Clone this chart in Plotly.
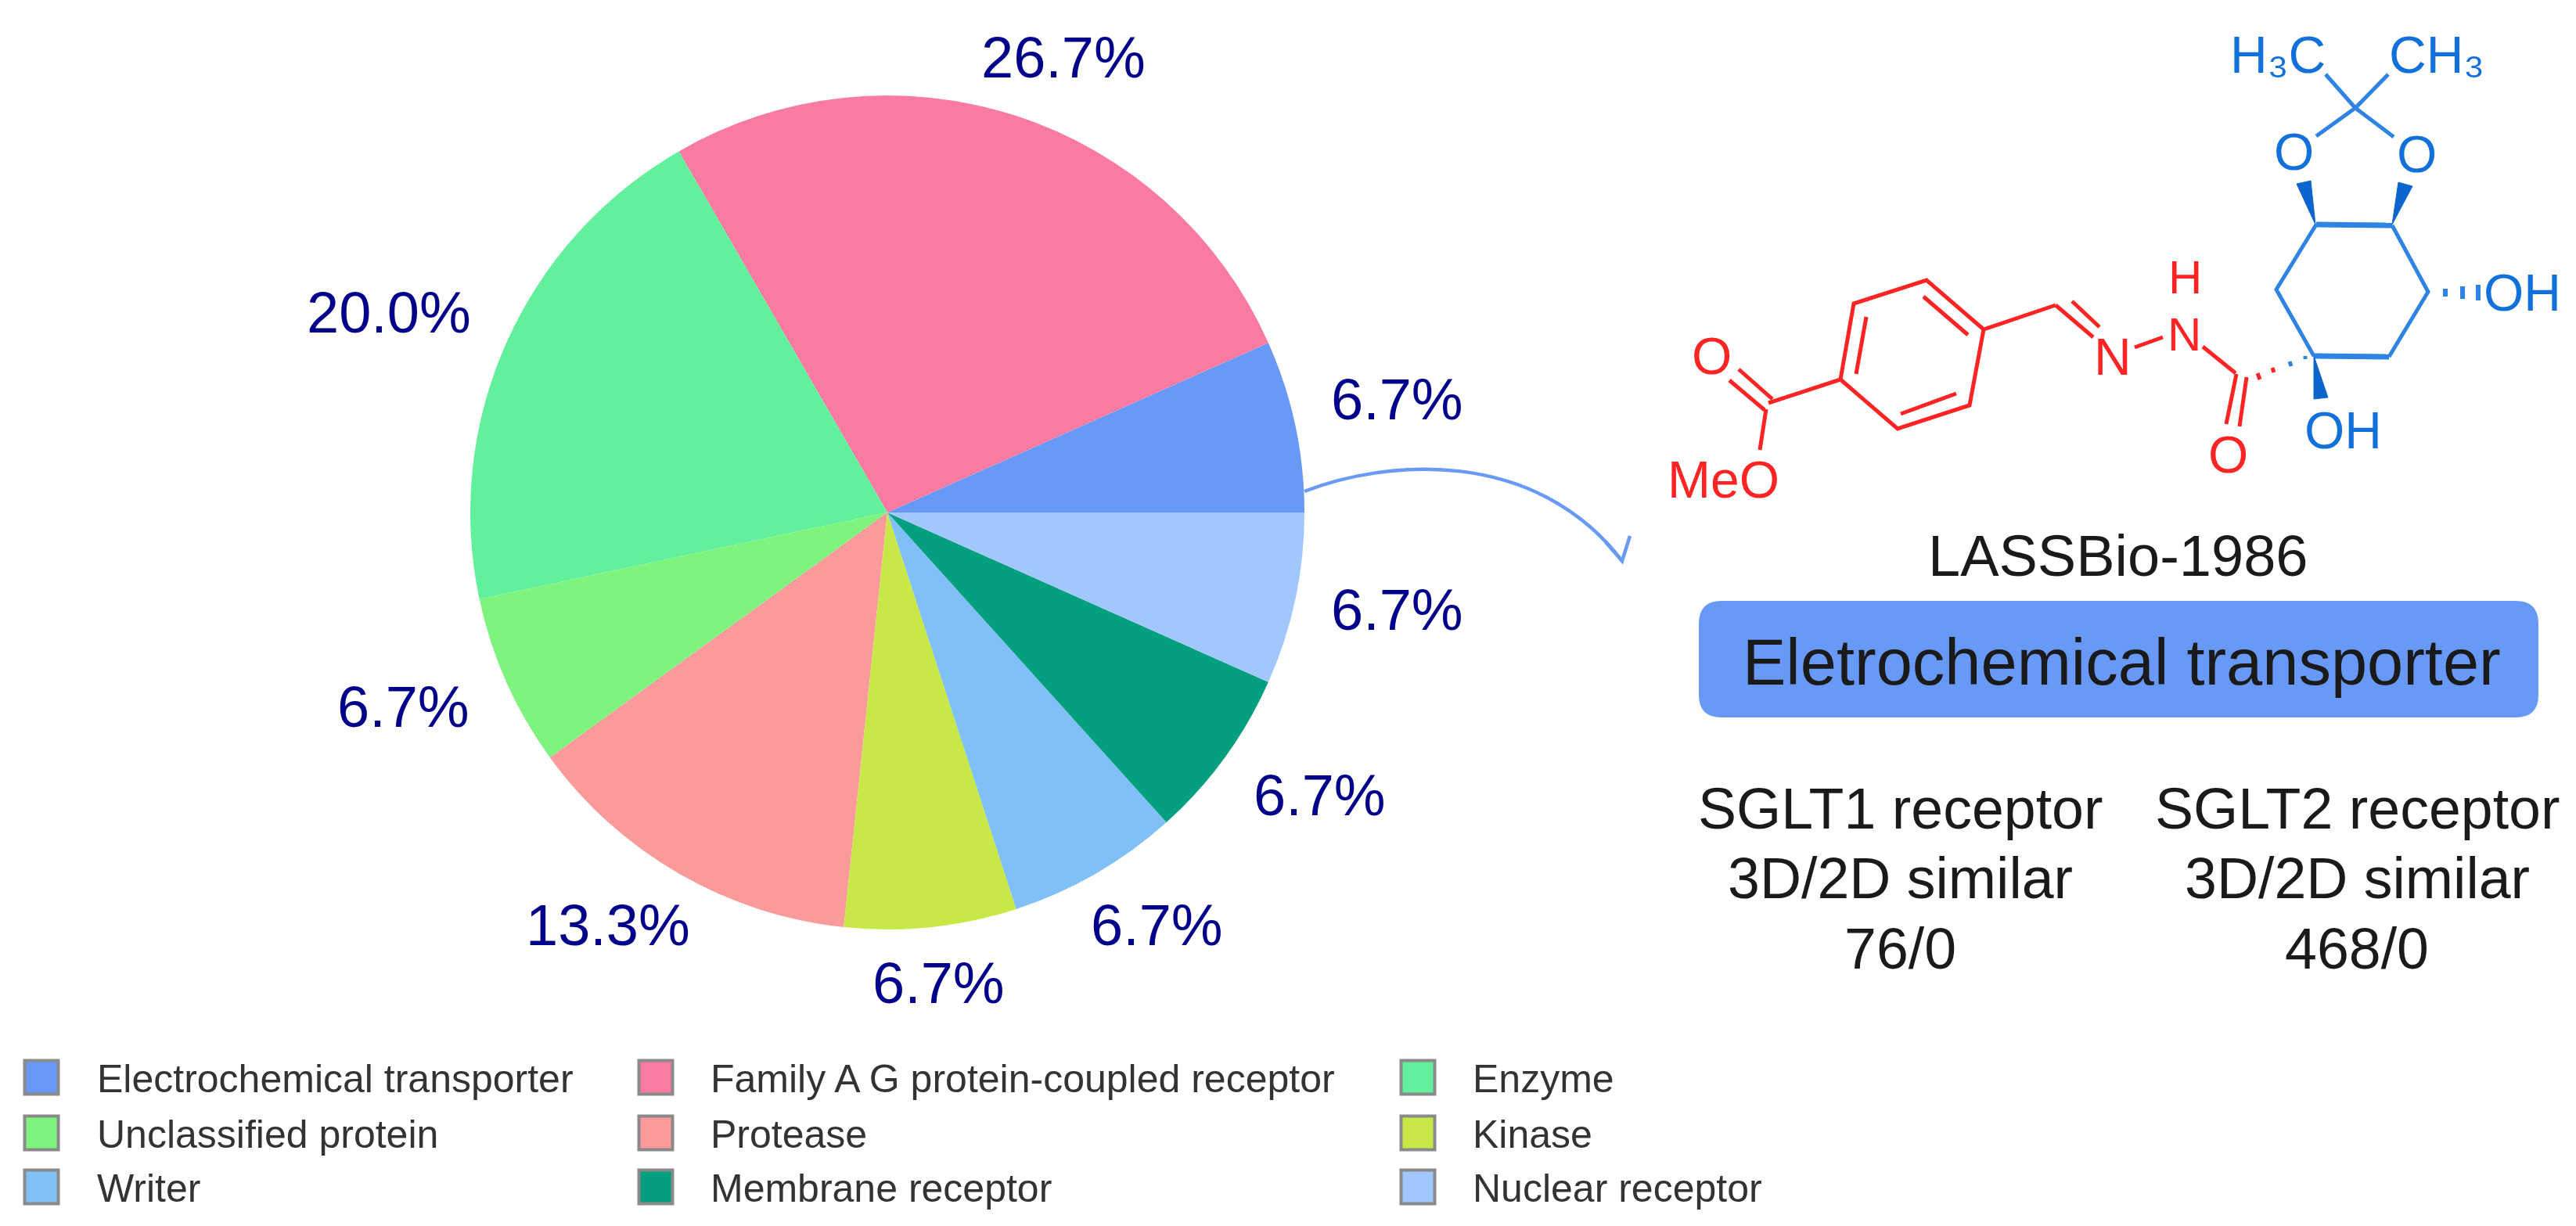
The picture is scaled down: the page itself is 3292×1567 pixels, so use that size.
import plotly.graph_objects as go

# ---------- data ----------
categories = ["Electrochemical transporter", "Family A G protein-coupled receptor", "Enzyme",
              "Unclassified protein", "Protease", "Kinase",
              "Writer", "Membrane receptor", "Nuclear receptor"]
target_counts = [1, 4, 3, 1, 2, 1, 1, 1, 1]
slice_colors = ["#6999F7", "#F97BA1", "#63F09C", "#7EF47E", "#FB9A9A",
                "#C7E847", "#80C0F7", "#049F7E", "#A0C8FC"]

# ---------- layout helpers (page pixels) ----------
PAGE_W, PAGE_H = 3292, 1567
BODY = 8  # default page margin of the written html
W, H = PAGE_W - 2 * BODY, PAGE_H - 2 * BODY
CX, CY, R = 1134, 655, 533
label_pos = [(1785, 510), (1359, 73), (497, 399), (515, 903), (777, 1182),
             (1199, 1256), (1478, 1182), (1686, 1016), (1785, 779)]
swatch_x = [53, 838, 1812]
text_x = [122, 906, 1880]
row_y = [1377, 1448, 1517]
INK = "#1A1A1A"
LABEL = "#00008B"
RED = "#FF2424"
BLUE = "#2F83E2"
BLUE_TEXT = "#1270DA"
WEDGE = "#0A66CC"
FONT = "Liberation Sans, Arial, sans-serif"

total = sum(target_counts)
fig = go.Figure()
fig.add_trace(go.Pie(
    labels=categories, values=target_counts, sort=False, direction="counterclockwise",
    rotation=90 - 360 * target_counts[0] / total, textinfo="none", hoverinfo="label+percent",
    marker=dict(colors=slice_colors, line=dict(width=0)),
    domain=dict(x=[(CX - BODY - R) / W, (CX - BODY + R) / W],
                y=[1 - (CY - BODY + R) / H, 1 - (CY - BODY - R) / H]),
    showlegend=False,
))

ann = []
def text(x, y, s, size, color=INK, anchor="center"):
    ann.append(dict(x=x, y=y, text=s, showarrow=False, xanchor=anchor, yanchor="middle",
                    xref="x", yref="y", font=dict(family=FONT, size=size, color=color)))

# percentage labels from the values
for v, (x, y) in zip(target_counts, label_pos):
    text(x, y, f"{v / total * 100:.1f}%", 74, LABEL)

# legend
sx, sy, sc = [], [], []
for i, (name, col) in enumerate(zip(categories, slice_colors)):
    c, r = i % 3, i // 3
    sx.append(swatch_x[c]); sy.append(row_y[r]); sc.append(col)
    text(text_x[c], row_y[r] + 2, name, 50, "#333333", "left")
fig.add_trace(go.Scatter(x=sx, y=sy, mode="markers", hoverinfo="skip", showlegend=False,
                         marker=dict(symbol="square", size=43, color=sc,
                                     line=dict(color="#8A8A8A", width=4))))

# molecule drawing
shapes = []
def seg(points, color, width=5):
    d = "M" + " L".join(f"{a},{b}" for a, b in points)
    shapes.append(dict(type="path", path=d, xref="x", yref="y", line=dict(color=color, width=width)))
def wedge(points, color):
    d = "M" + " L".join(f"{a},{b}" for a, b in points) + " Z"
    shapes.append(dict(type="path", path=d, xref="x", yref="y", fillcolor=color,
                       line=dict(color=color, width=1)))

red_bonds = [
    [(2222, 472), (2265, 510)], [(2210, 486), (2255, 524)],
    [(2260, 515), (2352, 485)], [(2257, 523), (2249, 575)],
    [(2352, 485), (2369, 388), (2462, 358), (2535, 421), (2517, 518), (2425, 548), (2352, 485)],
    [(2372, 478), (2385, 405)], [(2458, 379), (2515, 428)], [(2429, 529), (2500, 503)],
    [(2535, 421), (2627, 390)], [(2627, 390), (2675, 431)], [(2648, 385), (2683, 418)],
    [(2728, 444), (2764, 431)], [(2815, 443), (2857, 477)],
    [(2858, 478), (2845, 542)], [(2871, 482), (2862, 545)],
    [(2904, 470), (2906, 476)], [(2885, 477), (2888, 485)],
]
for b in red_bonds:
    seg(b, RED)
blue_bonds = [
    [(2957, 455), (2909, 370), (2960, 287)], [(3057, 288), (3103, 373), (3053, 456)],
    [(3010, 138), (2972, 95)], [(3010, 138), (3052, 95)],
    [(3010, 138), (2960, 174)], [(3010, 138), (3059, 175)],
    [(2946, 455), (2946, 459)], [(2926, 462), (2928, 468)],
]
for b in blue_bonds:
    seg(b, BLUE)
for x, half in [(3125, 5), (3147, 8), (3167, 10)]:
    seg([(x, 374 - half), (x, 374 + half)], BLUE, 6)
seg([(2960, 287), (3057, 288)], BLUE, 7)
seg([(2957, 455), (3053, 456)], BLUE, 7)
wedge([(2959, 287), (2935, 235), (2953, 231)], WEDGE)
wedge([(3057, 287), (3065, 233), (3083, 238)], WEDGE)
wedge([(2957, 455), (2957, 510), (2975, 508)], WEDGE)

atom_labels = [
    (2202, 613, "MeO", RED, 66), (2187, 455, "O", RED, 66), (2700, 456, "N", RED, 66),
    (2791, 427, "N", RED, 60), (2792, 354, "H", RED, 60), (2847, 581, "O", RED, 66),
    (2911, 70, "H₃C", BLUE_TEXT, 66), (3114, 70, "CH₃", BLUE_TEXT, 66),
    (2931, 194, "O", BLUE_TEXT, 66), (3088, 197, "O", BLUE_TEXT, 66),
    (3223, 374, "OH", BLUE_TEXT, 66), (2994, 550, "OH", BLUE_TEXT, 66),
]
for x, y, s, col, size in atom_labels:
    text(x, y, s, size, col)

# callout arrow
ARROW = "#6A9AF7"
shapes.append(dict(type="path", path="M1667,628 C1770,588 1960,570 2073,717",
                   xref="x", yref="y", line=dict(color=ARROW, width=4.5)))
shapes.append(dict(type="path", path="M2052,693 L2073,717 L2083,685",
                   xref="x", yref="y", line=dict(color=ARROW, width=4.5)))

# target box with rounded corners
bx0, by0, bx1, by1, rr = 2172, 769, 3243, 916, 28
shapes.append(dict(type="path", xref="x", yref="y", fillcolor="#6999F7",
                   line=dict(color="#6999F7", width=2),
                   path=(f"M{bx0+rr},{by0} L{bx1-rr},{by0} Q{bx1},{by0} {bx1},{by0+rr} "
                         f"L{bx1},{by1-rr} Q{bx1},{by1} {bx1-rr},{by1} L{bx0+rr},{by1} "
                         f"Q{bx0},{by1} {bx0},{by1-rr} L{bx0},{by0+rr} Q{bx0},{by0} {bx0+rr},{by0} Z")))

text(2706, 710, "LASSBio-1986", 74)
text(2711, 846, "Eletrochemical transporter", 83)
for cx, lines in [(2428, ["SGLT1 receptor", "3D/2D similar", "76/0"]),
                  (3012, ["SGLT2 receptor", "3D/2D similar", "468/0"])]:
    for y, s in zip([1033, 1122, 1212], lines):
        text(cx, y, s, 73.5)

fig.update_layout(
    width=W, height=H, margin=dict(l=0, r=0, t=0, b=0), paper_bgcolor="white", plot_bgcolor="white",
    xaxis=dict(range=[BODY, PAGE_W - BODY], visible=False, fixedrange=True),
    yaxis=dict(range=[PAGE_H - BODY, BODY], visible=False, fixedrange=True),
    annotations=ann, shapes=shapes, showlegend=False,
)
fig.write_html("out.html")
